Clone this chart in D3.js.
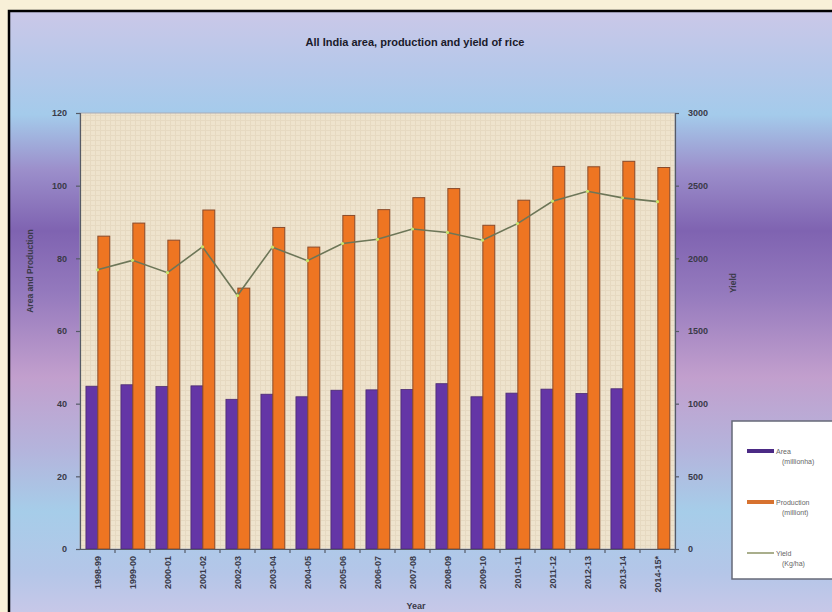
<!DOCTYPE html>
<html><head><meta charset="utf-8">
<script src="https://cdn.jsdelivr.net/npm/d3@7"></script>
<style>body{margin:0;background:#f8f0d8;}svg{display:block;font-family:"Liberation Sans",Arial,sans-serif;}</style>
</head><body>
<svg id="c" width="832" height="612"></svg>
<script>
const years = ["1998-99","1999-00","2000-01","2001-02","2002-03","2003-04","2004-05","2005-06","2006-07","2007-08","2008-09","2009-10","2010-11","2011-12","2012-13","2013-14","2014-15*"];
const area = [44.8,45.2,44.7,44.9,41.2,42.6,41.9,43.7,43.8,43.9,45.5,41.9,42.9,44.0,42.8,44.1,null];
const production = [86.1,89.7,85.0,93.3,71.8,88.5,83.1,91.8,93.4,96.7,99.2,89.1,96.0,105.3,105.2,106.7,105.0];
const yieldKg = [1921,1986,1901,2079,1744,2077,1984,2102,2131,2202,2178,2125,2239,2393,2461,2416,2390];
const leftTicks = [0,20,40,60,80,100,120];
const rightTicks = [0,500,1000,1500,2000,2500,3000];

const svg = d3.select("#c");
const defs = svg.append("defs");
const g = defs.append("linearGradient").attr("id","bg").attr("x1",0).attr("y1",0).attr("x2",0).attr("y2",1);
[[0,"#cbc8e8"],[0.1,"#b4c8ea"],[0.17,"#a4cbeb"],[0.26,"#9c8fcb"],[0.36,"#7f63b1"],[0.46,"#9479bd"],[0.6,"#c29fcd"],[0.72,"#b4b4dc"],[0.82,"#a6cde9"],[0.92,"#b4c6e8"],[1,"#cbc8e8"]]
 .forEach(([o,c])=>g.append("stop").attr("offset",o).attr("stop-color",c));
const pat = defs.append("pattern").attr("id","tex").attr("width",5).attr("height",5).attr("patternUnits","userSpaceOnUse");
pat.append("rect").attr("width",5).attr("height",5).attr("fill","#eee3cd");
pat.append("path").attr("d","M0,0.5H5M0.5,0V5").attr("stroke","#e6d9c1").attr("stroke-width",1);

svg.append("rect").attr("x",9).attr("y",11).attr("width",830).attr("height",610)
  .attr("fill","url(#bg)").attr("stroke","#000").attr("stroke-width",2.5);

const m = {l:80, r:675, t:113, b:549};
const x = d3.scaleBand().domain(years).range([m.l,m.r]).paddingInner(0).paddingOuter(0);
const yL = d3.scaleLinear().domain([0,120]).range([m.b,m.t]);
const yR = d3.scaleLinear().domain([0,3000]).range([m.b,m.t]);

svg.append("rect").attr("x",m.l).attr("y",m.t).attr("width",m.r-m.l).attr("height",m.b-m.t)
  .attr("fill","url(#tex)").attr("stroke","#a8acb8").attr("stroke-width",1);

const bw = x.bandwidth()*0.34;
const off = x.bandwidth()*0.17;
svg.append("g").selectAll("rect").data(years.map((d,i)=>({d,v:area[i]})).filter(o=>o.v!=null)).join("rect")
  .attr("x",o=>x(o.d)+off).attr("y",o=>yL(o.v)).attr("width",bw).attr("height",o=>yL(0)-yL(o.v))
  .attr("fill","#6436a6").attr("stroke","#4a2a70").attr("stroke-width",0.8);
svg.append("g").selectAll("rect").data(years.map((d,i)=>({d,v:production[i]}))).join("rect")
  .attr("x",o=>x(o.d)+off+bw).attr("y",o=>yL(o.v)).attr("width",bw).attr("height",o=>yL(0)-yL(o.v))
  .attr("fill","#ee7522").attr("stroke","#8a4a2a").attr("stroke-width",1);

const line = d3.line().x((d,i)=>x(years[i])+x.bandwidth()/2).y(d=>yR(d));
svg.append("path").attr("d",line(yieldKg)).attr("fill","none").attr("stroke","#6d7658").attr("stroke-width",1.6);
svg.append("g").selectAll("circle").data(yieldKg).join("circle")
  .attr("cx",(d,i)=>x(years[i])+x.bandwidth()/2).attr("cy",d=>yR(d)).attr("r",1.6).attr("fill","#c9e36a");

const axL = svg.append("g").attr("transform",`translate(${m.l},0)`)
  .call(d3.axisLeft(yL).tickValues(leftTicks).tickSize(4).tickPadding(9));
const axR = svg.append("g").attr("transform",`translate(${m.r},0)`)
  .call(d3.axisRight(yR).tickValues(rightTicks).tickFormat(d3.format("d")).tickSize(4).tickPadding(9));
const axB = svg.append("g").attr("transform",`translate(0,${m.b})`)
  .call(d3.axisBottom(x).tickSize(4).tickSizeOuter(0));
[axL,axR,axB].forEach(a=>{
  a.selectAll("path,line").attr("stroke","#555a66").attr("stroke-width",1.2);
  a.selectAll("text").attr("fill","#3a3a48").attr("font-size",9).attr("font-weight","bold");
});
axB.selectAll(".tick line").attr("transform",`translate(${x.bandwidth()/2},0)`);
axB.selectAll("text").attr("transform","rotate(-90)").attr("text-anchor","end")
  .attr("x",-7).attr("y",0).attr("dy","0.35em");

svg.append("text").attr("x",415).attr("y",46).attr("text-anchor","middle")
  .attr("font-size",11).attr("font-weight","bold").attr("fill","#1a1a2a")
  .text("All India area, production and yield of rice");
svg.append("text").attr("transform","translate(33,271) rotate(-90)").attr("text-anchor","middle")
  .attr("font-size",8.5).attr("font-weight","bold").attr("fill","#3a3a48").text("Area and Production");
svg.append("text").attr("transform","translate(736,283) rotate(-90)").attr("text-anchor","middle")
  .attr("font-size",8.5).attr("font-weight","bold").attr("fill","#3a3a48").text("Yield");
svg.append("text").attr("x",416).attr("y",609).attr("text-anchor","middle")
  .attr("font-size",9).attr("font-weight","bold").attr("fill","#3a3a48").text("Year");

const lg = svg.append("g").attr("transform","translate(732,421)");
lg.append("rect").attr("width",104).attr("height",158).attr("fill","#fff").attr("stroke","#666a78").attr("stroke-width",1.5);
const items = [["Area","(millionha)","#4b2a85",4],["Production","(milliont)","#d7722f",4],["Yield","(Kg/ha)","#a9ae8c",2]];
items.forEach(([a,b,c,h],i)=>{
  const yy = 30 + i*51;
  lg.append("rect").attr("x",15).attr("y",yy-h/2).attr("width",27).attr("height",h).attr("fill",c);
  lg.append("text").attr("x",44).attr("y",yy+3).attr("font-size",7).attr("fill","#666").text(a);
  lg.append("text").attr("x",50).attr("y",yy+13).attr("font-size",7).attr("fill","#666").text(b);
});
</script>
</body></html>
